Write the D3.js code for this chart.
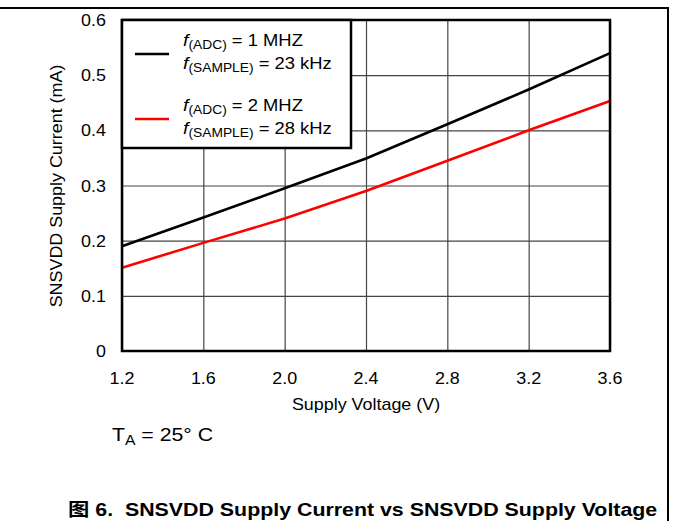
<!DOCTYPE html>
<html><head><meta charset="utf-8">
<script src="https://cdn.jsdelivr.net/npm/d3@7"></script>
<style>
html,body{margin:0;padding:0;background:#fff;}
svg{display:block;}
text{font-family:"Liberation Sans",Arial,"Noto Sans CJK SC",sans-serif;fill:#000;}
</style></head><body>
<svg id="c" width="673" height="521"></svg>
<script>
const voltages = [1.2, 1.6, 2.0, 2.4, 2.8, 3.2, 3.6];
const seriesADC1 = [0.190, 0.242, 0.295, 0.349, 0.411, 0.474, 0.540];
const seriesADC2 = [0.151, 0.196, 0.240, 0.290, 0.345, 0.400, 0.453];
const xTicks = [1.2, 1.6, 2.0, 2.4, 2.8, 3.2, 3.6];
const xTickLabels = ["1.2", "1.6", "2.0", "2.4", "2.8", "3.2", "3.6"];
const yTicks = [0, 0.1, 0.2, 0.3, 0.4, 0.5, 0.6];
const yTickLabels = ["0", "0.1", "0.2", "0.3", "0.4", "0.5", "0.6"];
const seriesNames = [["1 MHZ", "23 kHz"], ["2 MHZ", "28 kHz"]];
const seriesColors = ["#000000", "#ff0000"];

const svg = d3.select("#c");
const L = 122, R = 610, T = 20, B = 351;
const SX = 1.12;
const x = d3.scaleLinear().domain([1.2, 3.6]).range([L, R]);
const y = d3.scaleLinear().domain([0, 0.6]).range([B, T]);

function stext(g, tx, ty, str, opts) {
  opts = opts || {};
  const t = g.append("text")
    .attr("transform", `translate(${tx},${ty}) rotate(${opts.rot||0}) scale(${opts.sx||SX},1)`)
    .attr("font-size", opts.size || 16)
    .attr("text-anchor", opts.anchor || "start")
    .attr("font-weight", opts.weight || "normal");
  if (str !== null) t.text(str);
  return t;
}

// outer frame lines
svg.append("line").attr("x1", 0).attr("x2", 669).attr("y1", 8).attr("y2", 8).attr("stroke", "#000").attr("stroke-width", 2);
svg.append("line").attr("x1", 668).attr("x2", 668).attr("y1", 7).attr("y2", 521).attr("stroke", "#000").attr("stroke-width", 2);

// grid
const grid = svg.append("g");
grid.append("g").attr("transform", `translate(0,${B})`)
  .call(d3.axisBottom(x).tickValues(xTicks).tickSize(-(B - T)).tickFormat(""))
  .call(g => g.select(".domain").remove())
  .call(g => g.selectAll("line").attr("stroke", "#444").attr("stroke-width", 1.2));
grid.append("g").attr("transform", `translate(${L},0)`)
  .call(d3.axisLeft(y).tickValues(yTicks).tickSize(-(R - L)).tickFormat(""))
  .call(g => g.select(".domain").remove())
  .call(g => g.selectAll("line").attr("stroke", "#444").attr("stroke-width", 1.2));

// tick labels
const xl = svg.append("g");
xTicks.forEach((v, i) => stext(xl, x(v), 384, xTickLabels[i], {anchor: "middle"}));
const yl = svg.append("g");
yTicks.forEach((v, i) => stext(yl, 106, y(v) + 6, yTickLabels[i], {anchor: "end"}));

// series
const line = d3.line().x((d, i) => x(voltages[i])).y(d => y(d));
[seriesADC1, seriesADC2].forEach((s, k) => {
  svg.append("path").datum(s).attr("d", line).attr("fill", "none")
    .attr("stroke", seriesColors[k]).attr("stroke-width", 2.6).attr("stroke-linejoin", "round");
});

// plot border
svg.append("rect").attr("x", L).attr("y", T).attr("width", R - L).attr("height", B - T)
  .attr("fill", "none").attr("stroke", "#000").attr("stroke-width", 2.5);

// legend
const lg = svg.append("g");
lg.append("rect").attr("x", 122).attr("y", 20).attr("width", 229).attr("height", 128)
  .attr("fill", "#fff").attr("stroke", "#000").attr("stroke-width", 2.5);
seriesNames.forEach((nm, k) => {
  const by = 46 + k * 65;
  lg.append("line").attr("x1", 135).attr("x2", 169).attr("y1", by + 8).attr("y2", by + 8)
    .attr("stroke", seriesColors[k]).attr("stroke-width", 2.6);
  const t1 = stext(lg, 183, by, null, {sx: 1.15});
  t1.append("tspan").attr("font-style", "italic").attr("font-size", 17).text("f");
  t1.append("tspan").attr("font-size", 12).attr("dy", 3).text("(ADC)");
  t1.append("tspan").attr("dy", -3).text(" = " + nm[0]);
  const t2 = stext(lg, 183, by + 23, null, {sx: 1.15});
  t2.append("tspan").attr("font-style", "italic").attr("font-size", 17).text("f");
  t2.append("tspan").attr("font-size", 12).attr("dy", 3).text("(SAMPLE)");
  t2.append("tspan").attr("dy", -3).text(" = " + nm[1]);
});

// axis titles
stext(svg, 366, 410, "Supply Voltage (V)", {anchor: "middle"});
stext(svg, 62, 186, "SNSVDD Supply Current (mA)", {anchor: "middle", rot: -90});

// T_A
const ta = stext(svg, 112, 441, null, {size: 19});
ta.append("tspan").text("T");
ta.append("tspan").attr("font-size", 14).attr("dy", 4).text("A");
ta.append("tspan").attr("dy", -4).text(" = 25° C");

// caption
stext(svg, 68, 516, "图 6.  SNSVDD Supply Current vs SNSVDD Supply Voltage", {size: 18.5, weight: "bold", sx: 1.155})
  .style("white-space", "pre");
</script>
</body></html>
